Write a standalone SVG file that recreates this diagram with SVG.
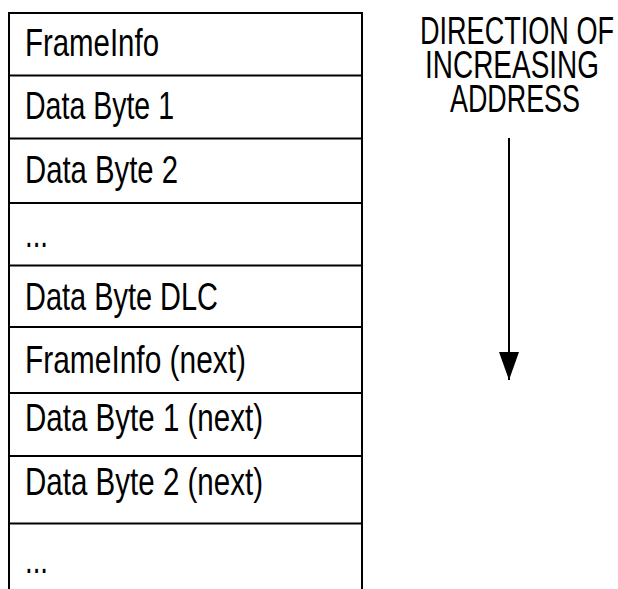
<svg xmlns="http://www.w3.org/2000/svg" width="618" height="589" viewBox="0 0 618 589">
<defs>
<style>
.t{font-family:"Liberation Sans",Arial,sans-serif;font-size:39px;fill:#000}
.h{font-family:"Liberation Sans",Arial,sans-serif;font-size:38px;fill:#000;text-anchor:middle}
.ln{stroke:#000;stroke-width:2;fill:none}
</style>
<marker id="ah" markerWidth="28" markerHeight="20" refX="28" refY="10" orient="auto" markerUnits="userSpaceOnUse" viewBox="0 0 28 20">
<path d="M0,0 L28,10 L0,20 Z" fill="#000"/>
</marker>
</defs>
<rect width="618" height="589" fill="#fff"/>
<g id="frame">
<path class="ln" d="M9,589 V13 H362 V589"/>
</g>
<g id="row1"><line class="ln" x1="9" y1="75.5" x2="362" y2="75.5"/><text class="t" x="25" y="56" textLength="134" lengthAdjust="spacingAndGlyphs">FrameInfo</text></g>
<g id="row2"><line class="ln" x1="9" y1="138.5" x2="362" y2="138.5"/><text class="t" x="25" y="118.5" textLength="149" lengthAdjust="spacingAndGlyphs">Data Byte 1</text></g>
<g id="row3"><line class="ln" x1="9" y1="203" x2="362" y2="203"/><text class="t" x="25" y="182.5" textLength="153" lengthAdjust="spacingAndGlyphs">Data Byte 2</text></g>
<g id="row4"><line class="ln" x1="9" y1="265.5" x2="362" y2="265.5"/><text class="t" x="25" y="246.5" textLength="23" lengthAdjust="spacingAndGlyphs">...</text></g>
<g id="row5"><line class="ln" x1="9" y1="327" x2="362" y2="327"/><text class="t" x="25" y="310" textLength="193" lengthAdjust="spacingAndGlyphs">Data Byte DLC</text></g>
<g id="row6"><line class="ln" x1="9" y1="393" x2="362" y2="393"/><text class="t" x="25" y="373" textLength="221" lengthAdjust="spacingAndGlyphs">FrameInfo (next)</text></g>
<g id="row7"><line class="ln" x1="9" y1="456" x2="362" y2="456"/><text class="t" x="25" y="431" textLength="238" lengthAdjust="spacingAndGlyphs">Data Byte 1 (next)</text></g>
<g id="row8"><line class="ln" x1="9" y1="523.5" x2="362" y2="523.5"/><text class="t" x="25" y="495" textLength="238" lengthAdjust="spacingAndGlyphs">Data Byte 2 (next)</text></g>
<g id="row9"><text class="t" x="25" y="573" textLength="23" lengthAdjust="spacingAndGlyphs">...</text></g>
<g id="label">
<text class="h" x="517" y="44" textLength="194" lengthAdjust="spacingAndGlyphs">DIRECTION OF</text>
<text class="h" x="512" y="78" textLength="174" lengthAdjust="spacingAndGlyphs">INCREASING</text>
<text class="h" x="515" y="112" textLength="130" lengthAdjust="spacingAndGlyphs">ADDRESS</text>
</g>
<g id="connectors">
<line class="ln" x1="509" y1="138" x2="509" y2="380" marker-end="url(#ah)"/>
</g>
</svg>
